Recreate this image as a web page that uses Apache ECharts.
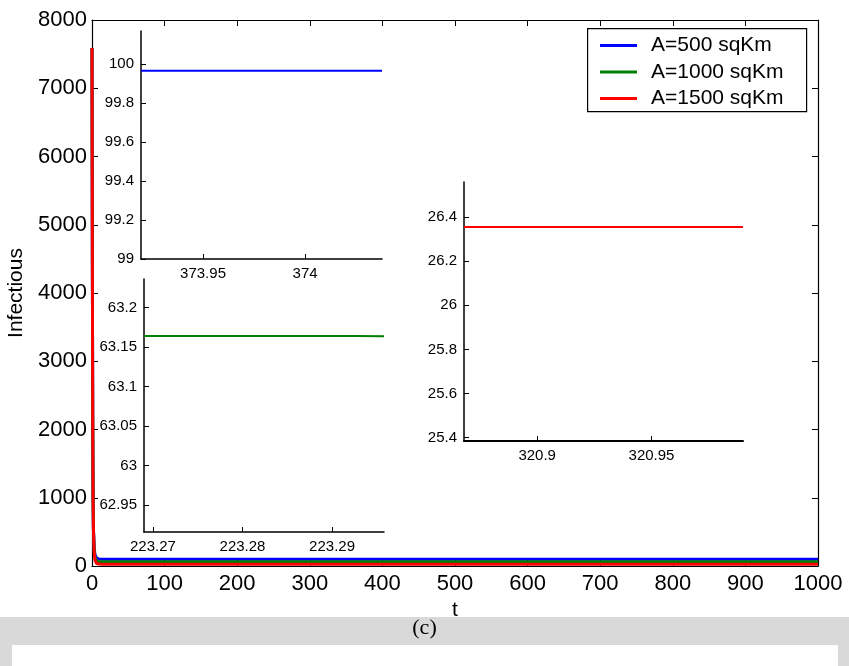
<!DOCTYPE html>
<html>
<head>
<meta charset="utf-8">
<script src="https://cdn.jsdelivr.net/npm/echarts@6/dist/echarts.min.js"></script>
<style>
  html, body { margin: 0; padding: 0; background: #fff; }
  #chart { width: 849px; height: 666px; }
</style>
</head>
<body>
<div id="chart"></div>
<script>
// Infectious population over time for three habitat areas
const seriesNames = ['A=500 sqKm', 'A=1000 sqKm', 'A=1500 sqKm'];
const seriesColors = ['#0000ff', '#007f00', '#ff0000'];

// Full simulation horizon
const tMain = [0, 0.5, 1, 1.5, 2, 3, 4, 6, 9, 14, 1000];
const infA500  = [7590, 4500, 2200, 1000, 540, 280, 170, 120, 104, 100.2, 99.966];
const infA1000 = [7590, 4500, 2200, 1000, 530, 240, 130, 80, 66, 63.3, 63.163];
const infA1500 = [7590, 4500, 2200, 1000, 520, 200, 90, 40, 28, 26.4, 26.355];

// Zoomed views of the steady state
const tZoom500  = [373.9196, 373.95, 374, 374.0377];
const infZoom500 = [99.966, 99.966, 99.966, 99.966];
const tZoom1000 = [223.269, 223.28, 223.29, 223.2927, 223.2958];
const infZoom1000 = [63.164, 63.164, 63.164, 63.164, 63.1635];
const tZoom1500 = [320.868, 320.9, 320.93, 320.95, 320.99];
const infZoom1500 = [26.355, 26.355, 26.355, 26.355, 26.355];

// Tick labels of the zoomed views
const ticksX500 = [373.95, 374];
const ticksY500 = [99, 99.2, 99.4, 99.6, 99.8, 100];
const ticksX1000 = [223.27, 223.28, 223.29];
const ticksY1000 = [62.95, 63, 63.05, 63.1, 63.15, 63.2];
const ticksX1500 = [320.9, 320.95];
const ticksY1500 = [25.4, 25.6, 25.8, 26, 26.2, 26.4];

const FONT = "'Liberation Sans', Arial, Helvetica, sans-serif";
const pair = (xs, ys) => xs.map((x, i) => [x, ys[i]]);
const plain = v => String(v);

function mainAxis(extra) {
  return Object.assign({
    type: 'value',
    axisLine: { show: true, onZero: false, lineStyle: { color: '#000', width: 1.2 } },
    axisTick: { show: true, inside: true, length: 6, lineStyle: { color: '#000' } },
    axisLabel: { color: '#000', fontFamily: FONT, fontSize: 22, formatter: plain },
    splitLine: { show: false }
  }, extra);
}

function insetAxis(gridIndex, min, max, ticks, extra) {
  return Object.assign({
    type: 'value',
    gridIndex: gridIndex,
    min: min,
    max: max,
    axisLine: { show: true, onZero: false, lineStyle: { color: '#000', width: 1.5 } },
    axisTick: { show: true, inside: true, length: 5, customValues: ticks, lineStyle: { color: '#000' } },
    axisLabel: { color: '#000', fontFamily: FONT, fontSize: 15, margin: 7, customValues: ticks, formatter: plain },
    splitLine: { show: false }
  }, extra);
}

const chart = echarts.init(document.getElementById('chart'), null, { renderer: 'canvas' });

const option = {
  animation: false,
  backgroundColor: '#fff',
  grid: [
    { left: 92, top: 20, width: 726, height: 546, show: false, outerBoundsMode: 'none', containLabel: false },
    { left: 141, top: 31, width: 241, height: 228, show: true, backgroundColor: '#fff', borderWidth: 0, outerBoundsMode: 'none', containLabel: false },
    { left: 144, top: 279, width: 240, height: 253, show: true, backgroundColor: '#fff', borderWidth: 0, outerBoundsMode: 'none', containLabel: false },
    { left: 464, top: 182, width: 279, height: 259, show: true, backgroundColor: '#fff', borderWidth: 0, outerBoundsMode: 'none', containLabel: false }
  ],
  xAxis: [
    mainAxis({ gridIndex: 0, min: 0, max: 1000, interval: 100, position: 'bottom',
      name: 't', nameLocation: 'middle', nameGap: 32,
      nameTextStyle: { color: '#000', fontFamily: FONT, fontSize: 21 },
      axisLabel: { color: '#000', fontFamily: FONT, fontSize: 22, margin: 7, formatter: plain } }),
    mainAxis({ gridIndex: 0, min: 0, max: 1000, interval: 100, position: 'top',
      axisLabel: { show: false } }),
    insetAxis(1, 373.9196, 374.0377, ticksX500, { position: 'bottom' }),
    insetAxis(2, 223.269, 223.2958, ticksX1000, { position: 'bottom' }),
    insetAxis(3, 320.868, 320.99, ticksX1500, { position: 'bottom',
      axisLine: { show: true, onZero: false, lineStyle: { color: '#000', width: 2 } } })
  ],
  yAxis: [
    mainAxis({ gridIndex: 0, min: 0, max: 8000, interval: 1000, position: 'left',
      name: 'Infectious', nameLocation: 'middle', nameGap: 60, nameRotate: 90,
      nameTextStyle: { color: '#000', fontFamily: FONT, fontSize: 21 },
      axisLabel: { color: '#000', fontFamily: FONT, fontSize: 22, margin: 5, formatter: plain } }),
    mainAxis({ gridIndex: 0, min: 0, max: 8000, interval: 1000, position: 'right',
      axisLabel: { show: false } }),
    insetAxis(1, 99, 100.17, ticksY500, { position: 'left' }),
    insetAxis(2, 62.916, 63.236, ticksY1000, { position: 'left' }),
    insetAxis(3, 25.385, 26.559, ticksY1500, { position: 'left' })
  ],
  legend: {
    show: true,
    orient: 'vertical',
    left: 600,
    top: 35,
    padding: 0,
    itemGap: 5.5,
    itemWidth: 37,
    itemHeight: 3,
    icon: 'rect',
    data: seriesNames,
    textStyle: { color: '#000', fontFamily: FONT, fontSize: 21, lineHeight: 20, padding: [0, 0, 0, 9] }
  },
  graphic: [
    { type: 'rect', z: 0, left: 587, top: 28,
      shape: { width: 219, height: 83 },
      style: { fill: '#fff', stroke: '#000', lineWidth: 1.2 } },
    { type: 'rect', z: -10, left: 0, top: 617,
      shape: { width: 849, height: 49 },
      style: { fill: '#d9d9d9' } },
    { type: 'rect', z: -9, left: 12, top: 645,
      shape: { width: 826, height: 21 },
      style: { fill: '#fff' } },
    { type: 'text', z: 5, left: 'center', top: 617,
      style: { text: '(c)', fill: '#000', font: "22px 'Liberation Serif', 'Times New Roman', serif" } }
  ],
  series: [
    { name: seriesNames[0], type: 'line', xAxisIndex: 0, yAxisIndex: 0, showSymbol: false, symbol: 'none',
      data: pair(tMain, infA500), lineStyle: { color: seriesColors[0], width: 3 }, itemStyle: { color: seriesColors[0] }, z: 2 },
    { name: seriesNames[1], type: 'line', xAxisIndex: 0, yAxisIndex: 0, showSymbol: false, symbol: 'none',
      data: pair(tMain, infA1000), lineStyle: { color: seriesColors[1], width: 3 }, itemStyle: { color: seriesColors[1] }, z: 3 },
    { name: seriesNames[2], type: 'line', xAxisIndex: 0, yAxisIndex: 0, showSymbol: false, symbol: 'none',
      data: pair(tMain, infA1500), lineStyle: { color: seriesColors[2], width: 3 }, itemStyle: { color: seriesColors[2] }, z: 4 },
    { name: seriesNames[0] + ' (zoom)', type: 'line', xAxisIndex: 2, yAxisIndex: 2, showSymbol: false, symbol: 'none',
      data: pair(tZoom500, infZoom500), lineStyle: { color: seriesColors[0], width: 2 }, z: 5 },
    { name: seriesNames[1] + ' (zoom)', type: 'line', xAxisIndex: 3, yAxisIndex: 3, showSymbol: false, symbol: 'none',
      data: pair(tZoom1000, infZoom1000), lineStyle: { color: seriesColors[1], width: 2 }, z: 5 },
    { name: seriesNames[2] + ' (zoom)', type: 'line', xAxisIndex: 4, yAxisIndex: 4, showSymbol: false, symbol: 'none',
      data: pair(tZoom1500, infZoom1500), lineStyle: { color: seriesColors[2], width: 2 }, z: 5 }
  ]
};

chart.setOption(option);
</script>
</body>
</html>
